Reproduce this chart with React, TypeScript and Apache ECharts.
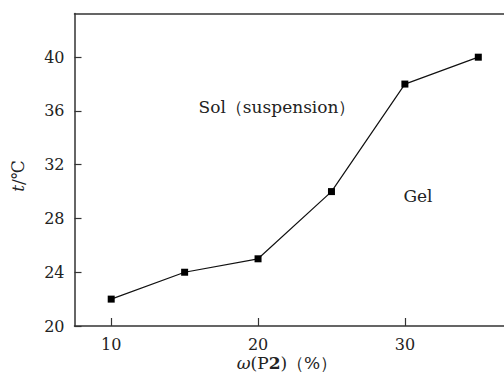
import React, { useEffect, useRef } from "react";
import * as echarts from "echarts";

const concentration = [10, 15, 20, 25, 30, 35];
const temperature = [22, 24, 25, 30, 38, 40];
const xTicks = [10, 20, 30];
const yTicks = [20, 24, 28, 32, 36, 40];

const FONT = "DejaVu Serif";

export default function App() {
  const ref = useRef<HTMLDivElement>(null);
  useEffect(() => {
    if (!ref.current) return;
    const chart = echarts.init(ref.current, null, { renderer: "svg" });
    const axisColor = "#333";
    chart.setOption({
      animation: false,
      backgroundColor: "#fff",
      grid: { left: 74.5, right: 0, top: 13.5, bottom: 52 },
      xAxis: [
        {
          type: "value",
          min: 7.5,
          max: 36.75,
          splitLine: { show: false },
          axisLine: { show: true, lineStyle: { color: axisColor, width: 1.5 } },
          axisTick: { show: true, inside: true, length: 8, customValues: xTicks, lineStyle: { color: axisColor, width: 1.2 } },
          axisLabel: { customValues: xTicks, color: "#222", fontFamily: FONT, fontSize: 16, margin: 10 },
        },
        {
          type: "value",
          position: "top",
          min: 7.5,
          max: 36.75,
          splitLine: { show: false },
          axisLine: { show: true, onZero: false, lineStyle: { color: axisColor, width: 1.5 } },
          axisTick: { show: false },
          axisLabel: { show: false },
        },
      ],
      yAxis: {
        type: "value",
        min: 20,
        max: 43.25,
        splitLine: { show: false },
        axisLine: { show: true, lineStyle: { color: axisColor, width: 1.5 } },
        axisTick: { show: true, inside: true, length: 7, customValues: yTicks, lineStyle: { color: axisColor, width: 1.2 } },
        axisLabel: { customValues: yTicks, color: "#222", fontFamily: FONT, fontSize: 16, margin: 10 },
      },
      series: [
        {
          type: "line",
          data: concentration.map((x, i) => [x, temperature[i]]),
          symbol: "rect",
          symbolSize: 7,
          lineStyle: { color: "#111", width: 1.2 },
          itemStyle: { color: "#000" },
        },
      ],
      graphic: [
        {
          type: "text",
          x: 277,
          y: 107,
          style: {
            text: "Sol（suspension）",
            fontFamily: FONT,
            fontSize: 17,
            fill: "#222",
            align: "center",
            verticalAlign: "middle",
          },
        },
        {
          type: "text",
          x: 418,
          y: 196,
          style: {
            text: "Gel",
            fontFamily: FONT,
            fontSize: 17,
            fill: "#222",
            align: "center",
            verticalAlign: "middle",
          },
        },
        {
          type: "text",
          x: 287,
          y: 363,
          style: {
            text: "{i|ω}{n|(P}{b|2}{n|)（%）}",
            align: "center",
            verticalAlign: "middle",
            rich: {
              i: { fontFamily: FONT, fontSize: 17, fontStyle: "italic", fill: "#222" },
              n: { fontFamily: FONT, fontSize: 17, fill: "#222" },
              b: { fontFamily: FONT, fontSize: 17, fontWeight: "bold", fill: "#222" },
            },
          },
        },
        {
          type: "text",
          x: 18,
          y: 176,
          rotation: Math.PI / 2,
          style: {
            text: "{i|t}{n|/℃}",
            align: "center",
            verticalAlign: "middle",
            rich: {
              i: { fontFamily: FONT, fontSize: 17, fontStyle: "italic", fill: "#222" },
              n: { fontFamily: FONT, fontSize: 17, fill: "#222" },
            },
          },
        },
      ],
    });
    return () => chart.dispose();
  }, []);
  return (
    <div
      ref={ref}
      style={{ position: "fixed", left: 0, top: 0, width: 504, height: 378 }}
    />
  );
}
